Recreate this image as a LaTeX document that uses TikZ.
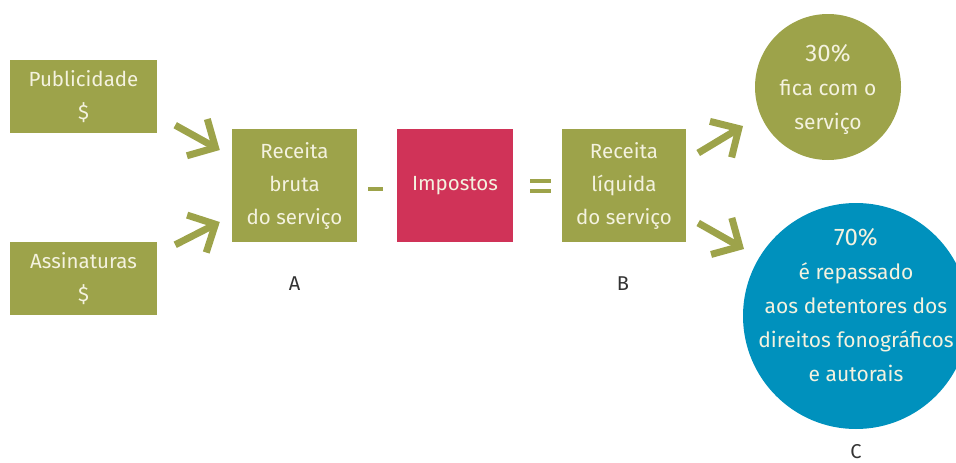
\documentclass[tikz,border=0pt]{standalone}
\usepackage{fontspec}
\setmainfont{Fira Sans}
\usetikzlibrary{calc}
\usetikzlibrary{arrows.meta}
\usetikzlibrary{positioning}

\definecolor{oliva}{HTML}{9DA34A}
\definecolor{carmim}{HTML}{D03358}
\definecolor{azul}{HTML}{0091BD}
\definecolor{creme}{HTML}{F4F2DF}
\definecolor{rotulo}{HTML}{333333}

\tikzset{
  caixa/.style={fill=#1, text=creme, align=center, inner sep=0pt,
    font=\fontsize{20.5}{33}\selectfont},
  caixa/.default=oliva,
  bola/.style={circle, fill=#1, inner sep=0pt},
  texto/.style={text=creme, align=center, inner sep=0pt,
    font=\fontsize{21}{34}\selectfont},
  fluxo/.style={oliva, line width=7pt, -{Straight Barb[length=21pt, width=42pt]}},
  sinal/.style={oliva, line width=4pt},
  letra/.style={text=rotulo, inner sep=0pt, font=\fontsize{20}{22}\selectfont}
}
\newcommand{\pct}[1]{{\fontsize{24}{34}\selectfont #1}}

\begin{document}
\begin{tikzpicture}[x=1pt, y=-1pt]
\useasboundingbox (0,0) rectangle (956,463);

% fontes de receita
\node[caixa, minimum width=147pt, minimum height=73pt] (pub) at (83.5,96.5) {Publicidade\\\$};
\node[caixa, minimum width=147pt, minimum height=73pt] (ass) at (83.5,278.5) {Assinaturas\\\$};

% conta
\node[caixa, minimum width=125pt, minimum height=113pt] (bruta) at (294.5,185.5) {Receita\\bruta\\do serviço};
\node[caixa=carmim, minimum width=116pt, minimum height=113pt] (imp) at (455,185.5) {Impostos};
\node[caixa, minimum width=124pt, minimum height=113pt] (liq) at (624,185.5) {Receita\\líquida\\do serviço};

\draw[sinal] ($(bruta.east)!.275!(imp.west)+(0,3.5)$) -- ($(bruta.east)!.65!(imp.west)+(0,3.5)$);
\draw[sinal] ($(imp.east)!.35!(liq.west)+(0,-5)$) -- ($(imp.east)!.78!(liq.west)+(0,-5)$);
\draw[sinal] ($(imp.east)!.35!(liq.west)+(0,5)$) -- ($(imp.east)!.78!(liq.west)+(0,5)$);

% divisao
\node[bola=oliva, minimum size=146pt] (c30) at (828,87) {};
\node[texto] (t30) at ($(c30.center)+(0,2)$) {\pct{30\%}\\fica com o\\serviço};
\node[bola=azul, minimum size=226pt] (c70) at (856,316) {};
\node[texto] (t70) at ($(c70.center)+(0,-11)$) {\pct{70\%}\\é repassado\\aos detentores dos\\direitos fonográficos\\e autorais};

% setas
\draw[fluxo] ($(pub.south east)+(18,-8)$) -- ($(bruta.west)+(-12,-35.5)$);
\draw[fluxo] ($(ass.north east)+(18,3)$) -- ($(bruta.west)+(-12,36.5)$);
\draw[fluxo] ($(liq.east)+(12,-32.5)$) -- ($(c30.center)+(-85,39)$);
\draw[fluxo] ($(liq.east)+(12,37.5)$) -- ($(c70.center)+(-112,-67)$);

% letras
\node[letra] (la) at ($(bruta.south)+(0,41)$) {A};
\node[letra] (lb) at ($(liq.south)+(-1,41)$) {B};
\node[letra] (lc) at ($(c70.south)+(0,22)$) {C};
\end{tikzpicture}
\end{document}
